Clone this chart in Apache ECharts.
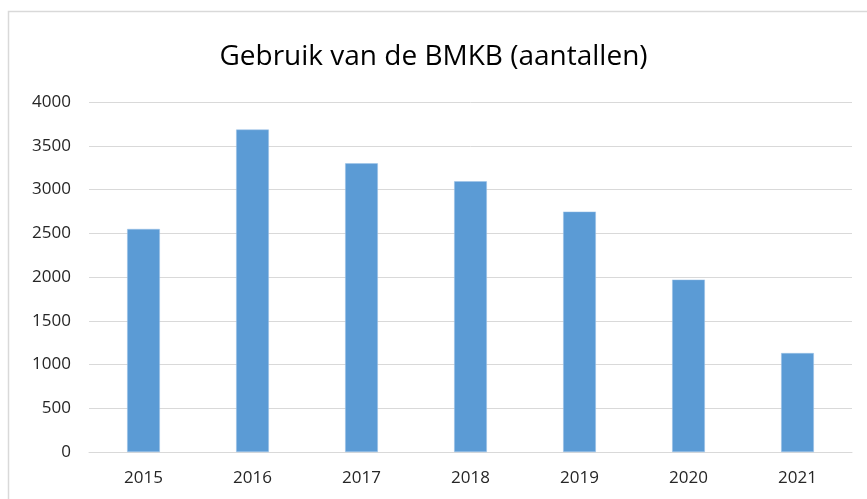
<!DOCTYPE html>
<html>
<head>
<meta charset="utf-8">
<script src="https://cdn.jsdelivr.net/npm/echarts@6/dist/echarts.min.js"></script>
<style>
  html, body { margin: 0; padding: 0; background: #fff; }
  #main { width: 867px; height: 499px; }
</style>
</head>
<body>
<div id="main"></div>
<script>
// jaren en aantallen
var years = ['2015', '2016', '2017', '2018', '2019', '2020', '2021'];
var counts = [2549, 3685, 3299, 3094, 2747, 1970, 1131];

var chart = echarts.init(document.getElementById('main'));

var option = {
  backgroundColor: '#ffffff',
  animation: false,
  title: {
    text: 'Gebruik van de BMKB (aantallen)',
    left: 'center',
    top: 38,
    textStyle: {
      fontFamily: 'Open Sans',
      fontWeight: 'normal',
      fontSize: 28,
      color: '#000000'
    }
  },
  graphic: [{
    type: 'rect',
    shape: { x: 8.5, y: 11.5, width: 900, height: 600 },
    style: { fill: 'none', stroke: '#d9d9d9', lineWidth: 1.5 },
    silent: true
  }],
  grid: {
    left: 89,
    right: 15,
    top: 102,
    bottom: 47
  },
  xAxis: {
    type: 'category',
    data: years,
    axisTick: { show: false },
    axisLine: { lineStyle: { color: '#d9d9d9', width: 1 } },
    axisLabel: {
      fontFamily: 'Open Sans',
      fontSize: 17,
      color: '#262626',
      margin: 18
    }
  },
  yAxis: {
    type: 'value',
    min: 0,
    max: 4000,
    interval: 500,
    axisLine: { show: false },
    axisTick: { show: false },
    splitLine: { lineStyle: { color: '#d9d9d9', width: 1 } },
    axisLabel: {
      fontFamily: 'Open Sans',
      fontSize: 17,
      color: '#262626',
      margin: 18,
      formatter: function (v) { return String(v); }
    }
  },
  series: [{
    type: 'bar',
    data: counts,
    barWidth: '30%',
    itemStyle: {
      color: '#5b9bd5',
      borderColor: '#9dc3e6',
      borderWidth: 0.5
    }
  }]
};

chart.setOption(option);
</script>
</body>
</html>
